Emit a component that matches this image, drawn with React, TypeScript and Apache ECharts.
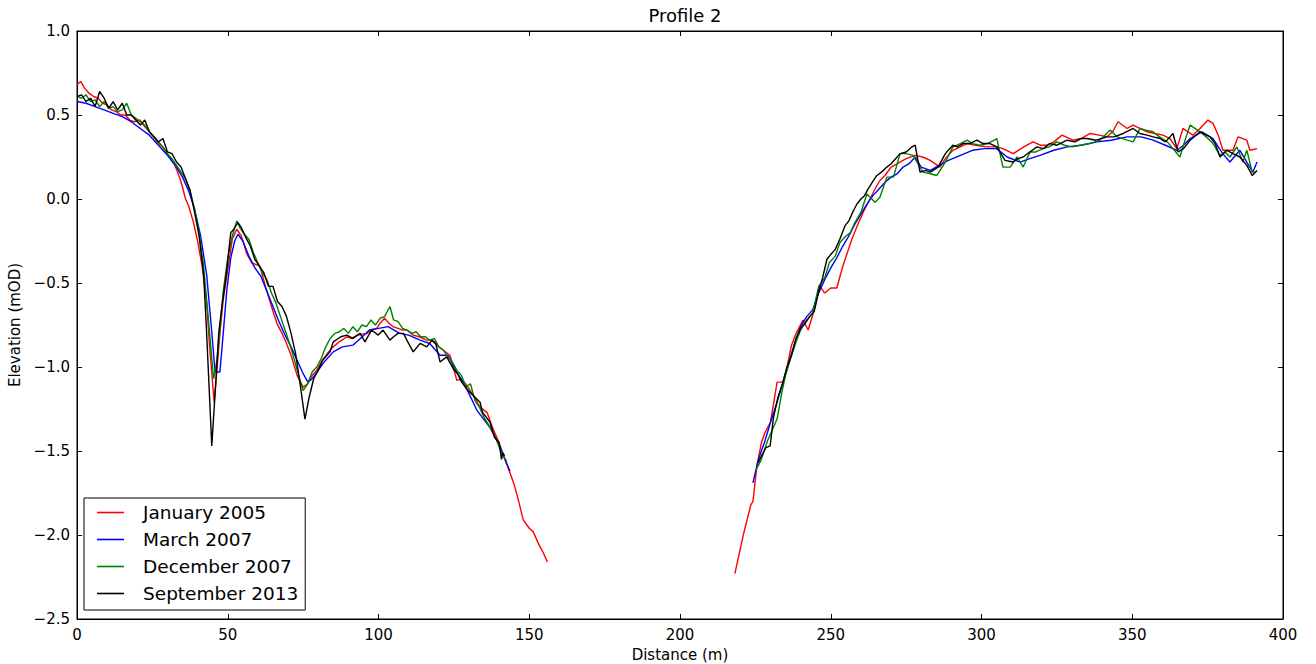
import React, { useEffect, useRef } from "react";
import * as echarts from "echarts";

const chartTitle = "Profile 2";
const xAxisName = "Distance (m)";
const yAxisName = "Elevation (mOD)";
const seriesNames = ["January 2005", "March 2007", "December 2007", "September 2013"];
const seriesColors = ["#ff0000", "#0000ff", "#008000", "#000000"];

const jan2005Left: number[][] = [
  [0, 0.68], [1.2, 0.7], [2.5, 0.66], [4, 0.63], [5.5, 0.61], [7, 0.6], [8.5, 0.57], [10, 0.56], [11.5, 0.53], [13, 0.52],
  [14.5, 0.5], [16, 0.5], [17.5, 0.47], [19, 0.46], [20.9, 0.47], [22, 0.44], [23.5, 0.41], [25, 0.38], [26.5, 0.35], [28, 0.32],
  [29.5, 0.28], [31, 0.24], [32.5, 0.2], [34, 0.13], [35, 0.07], [36, 0.0], [37, -0.04], [38.5, -0.13], [40, -0.25], [41.5, -0.4],
  [43, -0.62], [44, -0.88], [45.5, -1.21], [46.5, -1.0], [47.5, -0.78], [48.5, -0.6], [50, -0.42], [51.5, -0.24], [53, -0.18], [54.5, -0.22],
  [56.4, -0.33], [58, -0.38], [60.7, -0.4], [62.5, -0.52], [64.5, -0.64], [66.3, -0.74], [68, -0.8], [69.5, -0.86], [71, -0.93], [73, -1.05],
  [75, -1.12], [76.5, -1.1], [78, -1.05], [79.5, -1.02], [81, -0.97], [83, -0.92], [85, -0.88], [87, -0.85], [89.5, -0.82], [91, -0.83],
  [93, -0.81], [96.2, -0.8], [97.5, -0.78], [99.4, -0.77], [100.5, -0.74], [102, -0.71], [103.5, -0.74], [104.8, -0.76], [106.5, -0.77], [108, -0.78],
  [109.4, -0.78], [111.5, -0.81], [113.5, -0.82], [116, -0.84], [117.5, -0.84], [119.4, -0.87], [121.5, -0.9], [123.7, -0.93], [126, -1.08], [127.5, -1.07],
  [129.3, -1.11], [131.5, -1.17], [133.7, -1.24], [136, -1.27], [138, -1.37], [140, -1.45], [141.5, -1.53], [143.6, -1.63], [145, -1.7], [146.5, -1.8],
  [148, -1.91], [150, -1.96], [151.3, -1.98], [153, -2.05], [154.5, -2.1], [156, -2.16],
];
const jan2005Right: number[][] = [
  [218.2, -2.23], [221, -2.0], [223.5, -1.82], [224.2, -1.8], [225.5, -1.59], [227, -1.45], [228.2, -1.39], [230, -1.33], [232.2, -1.09], [234.2, -1.09],
  [235.5, -1.0], [237, -0.87], [238.5, -0.8], [240.8, -0.72], [242.5, -0.78], [244.2, -0.68], [246.4, -0.52], [248, -0.56], [250, -0.53], [252, -0.53],
  [254, -0.4], [257, -0.24], [259, -0.15], [261, -0.07], [263, 0.0], [265, 0.07], [266.3, 0.11], [268, 0.14], [270, 0.19], [273, 0.22],
  [275, 0.24], [278, 0.26], [280.5, 0.25], [283, 0.23], [286.2, 0.19], [288, 0.24], [290.5, 0.29], [293, 0.31], [295.2, 0.33], [298, 0.32],
  [301.8, 0.31], [305, 0.31], [307.1, 0.3], [310.5, 0.27], [314, 0.31], [317.1, 0.34], [319.5, 0.32], [321.7, 0.32], [324, 0.34], [326.7, 0.38],
  [330.3, 0.35], [333, 0.36], [336, 0.39], [339, 0.38], [341.6, 0.37], [343.5, 0.4], [345.3, 0.46], [348.3, 0.42], [350.3, 0.44], [352.5, 0.42],
  [354.9, 0.4], [357.5, 0.39], [360.2, 0.38], [362.5, 0.36], [364.8, 0.3], [366.8, 0.42], [368.5, 0.4], [370.1, 0.38], [372.5, 0.42], [375.1, 0.47],
  [376.8, 0.45], [378.5, 0.38], [380.1, 0.29], [383.4, 0.29], [385.1, 0.37], [388, 0.35], [389, 0.29], [391.4, 0.3],
];

const mar2007Left: number[][] = [
  [0, 0.58], [3, 0.57], [6, 0.55], [9, 0.53], [12, 0.51], [15, 0.49], [18, 0.46], [21, 0.42], [24, 0.38], [27, 0.32],
  [30, 0.26], [33, 0.19], [35, 0.13], [37, 0.05], [39, -0.06], [41, -0.22], [43, -0.45], [44.5, -0.75], [45.8, -1.03], [47.4, -1.03],
  [48.5, -0.8], [49.7, -0.54], [51, -0.35], [52.3, -0.25], [53.4, -0.21], [55, -0.25], [57, -0.34], [59, -0.41], [61, -0.46], [63, -0.55],
  [65, -0.64], [67, -0.73], [69, -0.81], [71, -0.88], [73, -0.96], [75, -1.04], [76.6, -1.09], [78, -1.07], [80, -1.02], [82, -0.97],
  [85, -0.91], [88, -0.88], [91.5, -0.87], [94, -0.83], [97, -0.78], [100, -0.77], [103.2, -0.76], [107, -0.8], [110, -0.81], [113.8, -0.84],
  [117, -0.86], [120.4, -0.93], [123, -0.93], [126, -1.03], [129, -1.12], [132.7, -1.26], [137, -1.36], [140, -1.46], [142, -1.55], [143.6, -1.62],
];
const mar2007Right: number[][] = [
  [224.2, -1.69], [226, -1.55], [228, -1.45], [230, -1.33], [232, -1.22], [234, -1.1], [236, -0.98], [238, -0.86], [240, -0.76], [242, -0.7],
  [244, -0.66], [246, -0.56], [248, -0.48], [250, -0.41], [252, -0.35], [254, -0.28], [256, -0.22], [258, -0.15], [260, -0.09], [262, -0.03],
  [264, 0.02], [266, 0.06], [268, 0.1], [270, 0.13], [272, 0.15], [274, 0.19], [276, 0.21], [278, 0.25], [280, 0.19], [283, 0.17],
  [286, 0.2], [289, 0.23], [293, 0.26], [297, 0.29], [301, 0.3], [305, 0.3], [308.5, 0.25], [312.8, 0.22], [316, 0.24], [319.4, 0.26],
  [324, 0.29], [328.4, 0.31], [333, 0.32], [338.3, 0.34], [343, 0.35], [348.3, 0.37], [353, 0.37], [356.9, 0.35], [361, 0.32], [364.8, 0.29],
  [367, 0.32], [369.2, 0.36], [373.1, 0.4], [376.8, 0.36], [380, 0.27], [382.4, 0.22], [385.7, 0.29], [388, 0.22], [390, 0.16], [391.4, 0.22],
];

const dec2007Left: number[][] = [
  [0, 0.61], [1.5, 0.6], [3, 0.62], [4.5, 0.58], [6, 0.59], [7.5, 0.55], [9, 0.58], [10.5, 0.54], [12, 0.55], [13.5, 0.52],
  [15, 0.53], [16.5, 0.57], [18, 0.5], [19.5, 0.48], [21, 0.46], [22.5, 0.44], [24, 0.4], [25.5, 0.37], [27, 0.33], [28.5, 0.31],
  [30, 0.27], [31.5, 0.24], [33, 0.2], [34.5, 0.16], [36, 0.12], [37.5, 0.05], [39, -0.06], [40.5, -0.2], [42, -0.4], [43.5, -0.7],
  [45.3, -1.07], [46.5, -0.95], [47.5, -0.75], [48.5, -0.55], [50, -0.35], [51.5, -0.22], [53, -0.13], [54, -0.17], [55.5, -0.21], [57, -0.24],
  [58.5, -0.32], [60, -0.38], [61.5, -0.44], [63, -0.48], [64.5, -0.56], [66, -0.62], [67.5, -0.7], [69, -0.78], [70.5, -0.86], [72, -0.95],
  [73.5, -1.05], [75, -1.14], [76.5, -1.1], [78, -1.03], [79.5, -1.0], [81, -0.95], [82.5, -0.88], [84, -0.83], [85.5, -0.8], [87, -0.79],
  [88.5, -0.77], [90, -0.8], [91.5, -0.76], [93, -0.79], [94.5, -0.75], [96, -0.76], [97.5, -0.72], [99, -0.75], [100.5, -0.71], [102, -0.7],
  [103.8, -0.64], [105, -0.72], [106.5, -0.73], [108, -0.77], [109.5, -0.78], [111, -0.8], [112.5, -0.79], [114, -0.82], [115.5, -0.82], [117, -0.84],
  [118.5, -0.83], [120, -0.88], [121.5, -0.9], [123, -0.94], [124.5, -0.97], [126, -1.02], [127.5, -1.05], [129, -1.12], [130.5, -1.1], [132, -1.2],
  [133.5, -1.24], [135, -1.3], [137, -1.36], [139, -1.43], [141, -1.52], [142.5, -1.56],
];
const dec2007Right: number[][] = [
  [225, -1.62], [227, -1.55], [229, -1.44], [230.5, -1.38], [232.2, -1.31], [233.8, -1.15], [235, -1.05], [237, -0.93], [238.5, -0.85], [240, -0.78],
  [242, -0.72], [244, -0.68], [246, -0.52], [248, -0.47], [249.5, -0.38], [251.5, -0.34], [253, -0.26], [255, -0.22], [256.5, -0.2], [258, -0.14],
  [260, -0.08], [262, 0.03], [264.7, -0.02], [266.3, 0.01], [268.6, 0.13], [270.8, 0.13], [273, 0.27], [275, 0.27], [277.3, 0.26], [280.6, 0.16],
  [283, 0.15], [285.2, 0.14], [288, 0.22], [290.5, 0.31], [293, 0.33], [295.2, 0.35], [297, 0.33], [299.5, 0.32], [302, 0.33], [305.1, 0.36],
  [307.1, 0.19], [309.5, 0.19], [311.8, 0.25], [313.8, 0.19], [316.1, 0.28], [318, 0.28], [320.4, 0.3], [322.5, 0.31], [325, 0.34], [327.5, 0.32],
  [330, 0.31], [332.7, 0.32], [336, 0.33], [339.3, 0.35], [342.6, 0.41], [345, 0.37], [348.3, 0.35], [350.3, 0.34], [352.6, 0.42], [354.5, 0.41],
  [356.9, 0.4], [359, 0.37], [361.6, 0.34], [363.5, 0.3], [365.8, 0.25], [367.5, 0.35], [369.2, 0.44], [372.5, 0.4], [374.5, 0.37], [376.8, 0.33],
  [379.1, 0.26], [380.8, 0.28], [382.4, 0.25], [384.7, 0.31], [386.7, 0.22], [388, 0.29], [389.8, 0.16], [390.7, 0.16],
];

const sep2013Left: number[][] = [
  [0, 0.61], [1.5, 0.62], [3, 0.58], [4.5, 0.6], [6, 0.55], [7.5, 0.64], [9, 0.6], [10.5, 0.54], [12, 0.58], [13.5, 0.53],
  [15, 0.57], [16.5, 0.5], [18, 0.5], [19.5, 0.47], [21, 0.44], [22.5, 0.47], [24, 0.4], [25.5, 0.37], [27, 0.34], [28.5, 0.36],
  [30, 0.28], [31.5, 0.27], [33, 0.22], [34.5, 0.19], [36, 0.12], [37.5, 0.05], [39, -0.08], [40.5, -0.22], [42, -0.45], [43, -0.8],
  [44.7, -1.47], [46, -1.1], [47, -0.8], [48, -0.65], [49.5, -0.45], [51, -0.2], [52, -0.18], [53.4, -0.14], [54.5, -0.17], [56, -0.23],
  [57.5, -0.28], [59, -0.36], [60.5, -0.4], [62, -0.44], [63.5, -0.52], [65, -0.52], [66.5, -0.61], [68, -0.64], [69.5, -0.7], [71, -0.8],
  [72.5, -0.92], [74, -1.1], [75.6, -1.31], [77, -1.18], [78.5, -1.07], [80, -1.02], [81.5, -0.96], [83.9, -0.91], [85, -0.85], [87.5, -0.82],
  [89.5, -0.81], [91.5, -0.83], [93.9, -0.8], [95.5, -0.85], [97.7, -0.78], [99.9, -0.81], [101.5, -0.78], [103.8, -0.84], [105, -0.82], [106.5, -0.8],
  [108.3, -0.8], [109.4, -0.84], [111.5, -0.91], [113.8, -0.86], [116, -0.88], [117.8, -0.84], [119, -0.86], [120.4, -0.97], [122.6, -0.94], [124.8, -1.01],
  [126.2, -1.04], [127.6, -1.09], [129.2, -1.13], [131.4, -1.17], [133.7, -1.21], [134.5, -1.27], [135.8, -1.3], [137, -1.33], [138.5, -1.42], [140, -1.45],
  [140.8, -1.55], [141.3, -1.51], [141.8, -1.53],
];
const sep2013Right: number[][] = [
  [225.9, -1.57], [227, -1.53], [228.5, -1.48], [229.9, -1.47], [231, -1.3], [232.5, -1.18], [234, -1.1], [235.5, -1.0], [237, -0.93], [238.5, -0.83],
  [240, -0.77], [241.5, -0.74], [243, -0.7], [244.5, -0.67], [246, -0.55], [247.3, -0.47], [248.7, -0.36], [250, -0.33], [251.5, -0.3], [253, -0.24],
  [254.7, -0.16], [256, -0.13], [257.5, -0.07], [258.7, -0.03], [260, 0.0], [261.2, 0.02], [262.4, 0.06], [263.8, 0.1], [265.3, 0.14], [266.8, 0.16],
  [268.6, 0.19], [270, 0.21], [271.5, 0.24], [273, 0.27], [275, 0.28], [276.9, 0.31], [278, 0.32], [279.6, 0.16], [281.5, 0.17], [283, 0.16],
  [285.6, 0.19], [288, 0.27], [290.5, 0.32], [292, 0.31], [293.9, 0.33], [296, 0.33], [298.5, 0.35], [300.5, 0.33], [302.8, 0.33], [305.1, 0.31],
  [307.8, 0.23], [310.5, 0.22], [312, 0.24], [313.8, 0.25], [316, 0.28], [318.4, 0.31], [320.5, 0.3], [322.7, 0.33], [325, 0.32], [328.4, 0.35],
  [331, 0.34], [333, 0.36], [335, 0.36], [338, 0.35], [341.6, 0.37], [344, 0.37], [347, 0.39], [350.3, 0.42], [352.5, 0.39], [354.9, 0.38],
  [357, 0.37], [359.2, 0.36], [361, 0.34], [363.5, 0.39], [365.2, 0.28], [367, 0.3], [369.2, 0.35], [372.5, 0.4], [375.8, 0.37], [377.5, 0.33],
  [379.1, 0.25], [381.4, 0.29], [383.4, 0.27], [385.7, 0.25], [388, 0.2], [389.8, 0.14], [391.4, 0.17],
];

const segments = [
  [jan2005Left, jan2005Right],
  [mar2007Left, mar2007Right],
  [dec2007Left, dec2007Right],
  [sep2013Left, sep2013Right],
];

const xMin = 0;
const xMax = 400;
const xStep = 50;
const yMin = -2.5;
const yMax = 1.0;
const yStep = 0.5;

const FONT = "DejaVu Sans";

function fmtY(v: number) {
  return v.toFixed(1).replace("-", "\u2212");
}

export default function App() {
  const ref = useRef<HTMLDivElement>(null);
  useEffect(() => {
    if (!ref.current) return;
    const chart = echarts.init(ref.current, null, { renderer: "svg" });
    const tickCommon = { show: true, inside: true, length: 5, lineStyle: { color: "#000", width: 1 } };
    const lineCommon = { show: true, onZero: false, lineStyle: { color: "#000", width: 1 } };
    const series = seriesNames.map((name, i) => ({
      name,
      type: "line",
      xAxisIndex: 0,
      yAxisIndex: 0,
      symbol: "none",
      showSymbol: false,
      connectNulls: false,
      lineStyle: { color: seriesColors[i], width: 1.4 },
      itemStyle: { color: seriesColors[i] },
      data: [...segments[i][0], [188, "-"], ...segments[i][1]],
      z: 2 + i,
    }));
    chart.setOption({
      animation: false,
      backgroundColor: "#fff",
      title: {
        text: chartTitle,
        left: 680,
        textAlign: "center",
        top: 1,
        textStyle: { fontFamily: FONT, fontSize: 18, fontWeight: "normal", color: "#000" },
      },
      grid: {
        left: 77,
        right: 33,
        top: 31,
        bottom: 45,
        containLabel: false,
        outerBoundsMode: "none",
        show: true,
        borderColor: "#000",
        borderWidth: 1,
        backgroundColor: "#fff",
      },
      legend: {
        orient: "vertical",
        left: 84,
        top: 498,
        data: seriesNames,
        icon: "rect",
        itemWidth: 27,
        itemHeight: 1.6,
        itemGap: 8,
        padding: [5, 7, 7, 13],
        borderColor: "#000",
        borderWidth: 1,
        backgroundColor: "#fff",
        textStyle: { fontFamily: FONT, fontSize: 18.5, lineHeight: 17, color: "#000", padding: [0, 0, 0, 14] },
        z: 10,
      },
      xAxis: [
        {
          type: "value",
          position: "bottom",
          min: xMin,
          max: xMax,
          interval: xStep,
          name: xAxisName,
          nameLocation: "middle",
          nameGap: 28,
          nameTextStyle: { fontFamily: FONT, fontSize: 15, color: "#000" },
          axisLine: lineCommon,
          axisTick: tickCommon,
          splitLine: { show: false },
          axisLabel: { fontFamily: FONT, fontSize: 15, color: "#000", margin: 8 },
        },
        {
          type: "value",
          position: "top",
          min: xMin,
          max: xMax,
          interval: xStep,
          axisLine: lineCommon,
          axisTick: tickCommon,
          splitLine: { show: false },
          axisLabel: { show: false },
        },
      ],
      yAxis: [
        {
          type: "value",
          position: "left",
          min: yMin,
          max: yMax,
          interval: yStep,
          name: yAxisName,
          nameLocation: "middle",
          nameGap: 48,
          nameTextStyle: { fontFamily: FONT, fontSize: 15, color: "#000" },
          axisLine: lineCommon,
          axisTick: tickCommon,
          splitLine: { show: false },
          axisLabel: { fontFamily: FONT, fontSize: 15, color: "#000", margin: 7, formatter: fmtY },
        },
        {
          type: "value",
          position: "right",
          min: yMin,
          max: yMax,
          interval: yStep,
          axisLine: lineCommon,
          axisTick: tickCommon,
          splitLine: { show: false },
          axisLabel: { show: false },
        },
      ],
      series,
    });
    return () => chart.dispose();
  }, []);
  return (
    <div
      ref={ref}
      style={{ position: "fixed", left: 0, top: 0, width: 1316, height: 664 }}
    />
  );
}
